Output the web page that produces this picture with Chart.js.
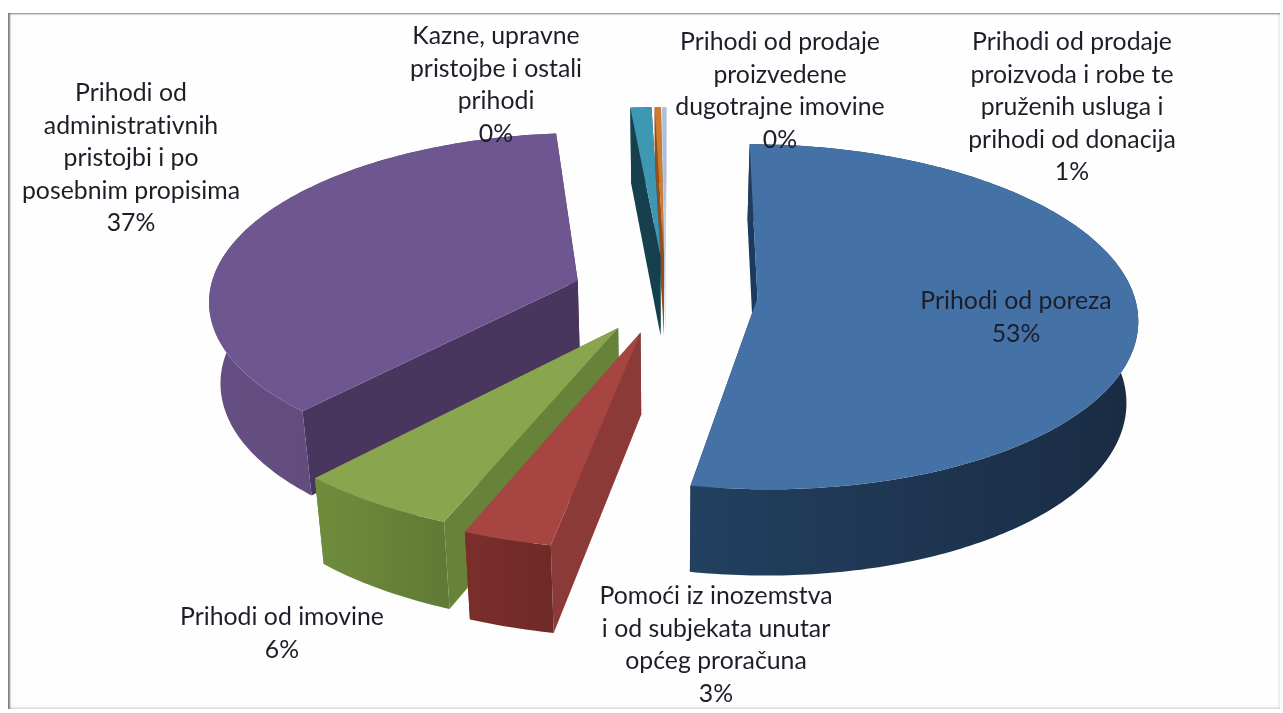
<!DOCTYPE html>
<html><head><meta charset="utf-8">
<script src="https://cdn.jsdelivr.net/npm/chart.js@4"></script>
<style>
html,body{margin:0;padding:0;background:#fff;width:1283px;height:713px;overflow:hidden}
#frame{position:absolute;left:8px;top:13px;width:1272px;height:696px;background:#fefefe;
 box-shadow:inset 3px 2px 2px -1px #7c7c7c, inset -2px -3px 3px -2px #c8c8c8}
canvas{position:absolute;left:0;top:0}
</style></head><body>
<div id="frame"></div>
<canvas id="c" width="1283" height="713"></canvas>
<script>
// data
const categories = ["Prihodi od poreza","Pomoći iz inozemstva i od subjekata unutar općeg proračuna","Prihodi od imovine","Prihodi od administrativnih pristojbi i po posebnim propisima","Prihodi od prodaje proizvoda i robe te pruženih usluga i prihodi od donacija","Prihodi od prodaje proizvedene dugotrajne imovine","Kazne, upravne pristojbe i ostali prihodi"];
const values = [52.9,3.1,5.75,36.75,1.0,0.3,0.2];
// label lines, one list per category
const labelLines = [
 ["Prihodi od poreza"],
 ["Pomoći iz inozemstva","i od subjekata unutar","općeg proračuna"],
 ["Prihodi od imovine"],
 ["Prihodi od","administrativnih","pristojbi i po","posebnim propisima"],
 ["Prihodi od prodaje","proizvoda i robe te","pruženih usluga i","prihodi od donacija"],
 ["Prihodi od prodaje","proizvedene","dugotrajne imovine"],
 ["Kazne, upravne","pristojbe i ostali","prihodi"]
];
// styles
const topColors  = ["#4471a6","#a74543","#89a54e","#6e5790","#3f98b3","#cf7c30","#a9bfdc"];
const wallColors = ["#1b3a5e","#8c3a37","#67833a","#49365f","#17404f","#8f5020","#c4ccd4"];
const rimLeft    = ["#22405f","#7a2e2b","#6f8c3d","#654f82","#17404f","#8f5020","#c4ccd4"];
const rimRight   = ["#1a2c44","#6f2a27","#5f7a34","#594572","#17404f","#8f5020","#c4ccd4"];
// label layout: centre x, first line y
const labelX = [1016,716,282,131,1072,780,496];
const labelY = [301,596,617,93,42,42,36];
const LINE = 32.6;
// 3D projection settings
const SX=1.28, SY=0.577, PERSP=2700, DEPTH=81, SHRINK=0.025;
const sliceScale = [0.98,1.05,1.03,0.96,1,1,1];
const explode = [288,272,272,292,272,272,272];

function project(cx,cy,u,v,z){
  const p = 1/(1 - v/PERSP);
  const k = 1 - z*SHRINK;
  return [cx + u*SX*p*k, cy + v*SY*p*k + z*DEPTH*p];
}
const pie3d = {
  id:'pie3d',
  beforeDatasetsDraw(chart){
    const ctx = chart.ctx, arcs = chart.getDatasetMeta(0).data;
    const shapes = arcs.map((el,i)=>{
      const {x,y,startAngle:a0,endAngle:a1,outerRadius:R0} = el.getProps(['x','y','startAngle','endAngle','outerRadius'],true);
      const R=R0*sliceScale[i];
      const mid=(a0+a1)/2, d=(el.options.offset||0)/4;
      const ou=Math.cos(mid)*d, ov=Math.sin(mid)*d;
      const pt=(a,z,r)=>project(x,y,ou+Math.cos(a)*r,ov+Math.sin(a)*r,z);
      const n=Math.max(2,Math.ceil((a1-a0)/0.015));
      const rim=z=>{const s=[];for(let k=0;k<=n;k++)s.push(pt(a0+(a1-a0)*k/n,z,R));return s;};
      return {i,pt,R,a0,a1,top:rim(0),bot:rim(1),order:ov+Math.sin(mid)*R*0.5};
    }).sort((p,q)=>p.order-q.order);
    const fillPoly=(pts,c)=>{ctx.beginPath();pts.forEach((q,k)=>k?ctx.lineTo(q[0],q[1]):ctx.moveTo(q[0],q[1]));ctx.closePath();ctx.fillStyle=c;ctx.fill();};
    ctx.save();
    for(const s of shapes){
      const ap0=s.pt(0,0,0), ap1=s.pt(0,1,0);
      fillPoly([ap0,s.top[0],s.bot[0],ap1],wallColors[s.i]);
      fillPoly([ap0,s.top[s.top.length-1],s.bot[s.bot.length-1],ap1],wallColors[s.i]);
      const xs=s.bot.map(q=>q[0]);
      const g=ctx.createLinearGradient(Math.min(...xs),0,Math.max(...xs),0);
      g.addColorStop(0,rimLeft[s.i]);g.addColorStop(1,rimRight[s.i]);
      fillPoly(s.top.concat(s.bot.slice().reverse()),g);
      fillPoly([ap0].concat(s.top),topColors[s.i]);
    }
    ctx.restore();
    return false;
  },
  afterDraw(chart){
    const ctx=chart.ctx, total=values.reduce((a,b)=>a+b,0);
    ctx.save();
    ctx.font='24.8px Lato';ctx.textAlign='center';ctx.textBaseline='middle';ctx.fillStyle='#1e1e28';
    ctx.letterSpacing='0.01px';
    labelLines.forEach((lines,i)=>{
      const all=lines.concat([Math.round(values[i]/total*100)+'%']);
      all.forEach((t,k)=>ctx.fillText(t,labelX[i],labelY[i]+k*LINE));
    });
    ctx.restore();
  }
};
new Chart(document.getElementById('c'),{
  type:'pie',
  data:{labels:categories,datasets:[{data:values,backgroundColor:topColors,borderWidth:0,offset:explode,radius:300}]},
  options:{responsive:false,animation:false,rotation:0.2,
    layout:{padding:{left:48,bottom:125}},
    plugins:{legend:{display:false},tooltip:{enabled:false}},events:[]},
  plugins:[pie3d]
});
</script></body></html>
